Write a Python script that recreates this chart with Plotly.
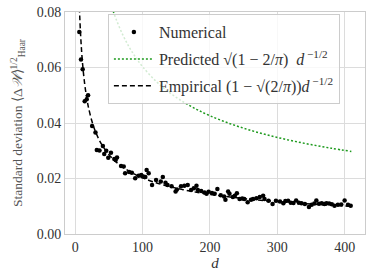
import plotly.graph_objects as go

# Numerical data
d_num = [6, 8.5, 11, 14, 17, 19, 25, 30, 32, 36, 41, 43, 46, 49, 53, 58, 60, 62, 68, 72,
         74, 80, 84, 89, 94, 98, 101, 104, 106, 109, 114, 120, 127, 130, 134, 137, 143, 149,
         151, 157, 162, 167, 172, 176, 180, 182, 187, 192, 195, 198, 203, 207, 211, 216, 221,
         223, 227, 229, 234, 237, 240, 244, 248, 251, 256, 261, 264, 269, 274, 279, 281, 287,
         293, 298, 304, 309, 312, 316, 320, 324, 328, 332, 336, 341, 347, 351, 355, 358, 362,
         366, 370, 373, 377, 381, 385, 390, 395, 400, 405, 409]
std_num = [0.0728, 0.0629, 0.0594, 0.0478, 0.0486, 0.0500, 0.0389, 0.0366, 0.0303, 0.0301,
           0.0317, 0.0288, 0.0300, 0.0275, 0.0293, 0.0270, 0.0267, 0.0276, 0.0245, 0.0243,
           0.0219, 0.0223, 0.0221, 0.0201, 0.0210, 0.0213, 0.0207, 0.0205, 0.0231, 0.0219,
           0.0177, 0.0195, 0.0189, 0.0205, 0.0185, 0.0177, 0.0172, 0.0153, 0.0160, 0.0172,
           0.0174, 0.0177, 0.0159, 0.0165, 0.0174, 0.0159, 0.0155, 0.0150, 0.0145, 0.0152,
           0.0148, 0.0145, 0.0162, 0.0140, 0.0135, 0.0123, 0.0153, 0.0145, 0.0133, 0.0138,
           0.0147, 0.0126, 0.0128, 0.0126, 0.0114, 0.0123, 0.0126, 0.0129, 0.0133, 0.0138,
           0.0126, 0.0120, 0.0108, 0.0120, 0.0117, 0.0111, 0.0119, 0.0120, 0.0113, 0.0112,
           0.0121, 0.0113, 0.0111, 0.0108, 0.0097, 0.0105, 0.0110, 0.0121, 0.0109, 0.0111,
           0.0108, 0.0111, 0.0110, 0.0107, 0.0102, 0.0105, 0.0106, 0.0121, 0.0105, 0.0102]

# Curves
d_curve = [5, 6, 7, 8, 9, 10, 12, 14, 16, 18, 20, 25, 30, 35, 40, 45, 50, 55, 60, 70, 80, 90,
           100, 120, 140, 160, 180, 200, 230, 260, 290, 320, 350, 380, 410]
predicted = [0.2696, 0.2461, 0.2278, 0.2131, 0.2009, 0.1906, 0.1740, 0.1611, 0.1507, 0.1421,
             0.1348, 0.1206, 0.1101, 0.1019, 0.09531, 0.08986, 0.08525, 0.08128, 0.07782,
             0.07205, 0.06740, 0.06354, 0.06028, 0.05503, 0.05095, 0.04766, 0.04493, 0.04262,
             0.03975, 0.03738, 0.03540, 0.03370, 0.03222, 0.03092, 0.02977]
empirical = [0.09038, 0.08251, 0.07639, 0.07145, 0.06737, 0.06391, 0.05834, 0.05401, 0.05053,
             0.04764, 0.04519, 0.04042, 0.03690, 0.03416, 0.03195, 0.03013, 0.02858, 0.02725,
             0.02609, 0.02416, 0.02260, 0.02130, 0.02021, 0.01845, 0.01708, 0.01598, 0.01506,
             0.01429, 0.01333, 0.01253, 0.01187, 0.01130, 0.01080, 0.01037, 0.00998]

x_ticks = [0, 100, 200, 300, 400]
y_ticks = [0.00, 0.02, 0.04, 0.06, 0.08]

FONT = "Liberation Serif"
fig = go.Figure()
fig.add_trace(go.Scatter(x=d_num, y=std_num, mode="markers", name="Numerical",
                         legendgroup="a", marker=dict(color="black", size=4.5)))
fig.add_trace(go.Scatter(x=d_curve, y=predicted, mode="lines", legendgroup="b",
                         name="Predicted √(1 − 2/<i>π</i>)  <i>d</i><sup> −1/2</sup>",
                         line=dict(color="#1e9a1e", dash="2px,2px", width=1.5, shape="spline")))
fig.add_trace(go.Scatter(x=d_curve, y=empirical, mode="lines", legendgroup="c",
                         name="Empirical (1 − √(2/<i>π</i>))<i>d</i><sup> −1/2</sup>",
                         line=dict(color="black", dash="5px,3px", width=1.5, shape="spline")))

axis_common = dict(showgrid=True, gridcolor="#dcdcdc", gridwidth=1, zeroline=False,
                   showline=True, linecolor="#cccccc", linewidth=1, mirror=True,
                   ticks="", automargin=False,
                   tickfont=dict(family=FONT, size=14, color="#333333"))
fig.update_xaxes(range=[-15.25, 430.25], tickvals=x_ticks,
                 title=dict(text="<i>d</i>", font=dict(family=FONT, size=15, color="#333333"),
                            standoff=0), **axis_common)
fig.update_yaxes(range=[0, 0.08], tickvals=y_ticks, tickformat=".2f",
                 title=dict(text="Standard deviation ⟨Δ<i>𝒲</i>⟩<sup>1/2</sup><sub>Haar</sub>",
                            font=dict(family=FONT, size=13.5, color="#555555"), standoff=10),
                 **axis_common)
fig.update_layout(width=373, height=280, plot_bgcolor="white", paper_bgcolor="white",
                  margin=dict(l=65, r=8, t=12, b=46),
                  font=dict(family=FONT, color="#333333"),
                  legend=dict(x=0.143, y=0.99, xanchor="left", yanchor="top",
                              bgcolor="rgba(255,255,255,0.8)", bordercolor="#cccccc",
                              borderwidth=1, font=dict(family=FONT, size=16, color="#333333"),
                              tracegroupgap=3, itemwidth=40))
fig.write_html("out.html", config={"displayModeBar": False},
               post_script="document.body.style.margin='0';")
